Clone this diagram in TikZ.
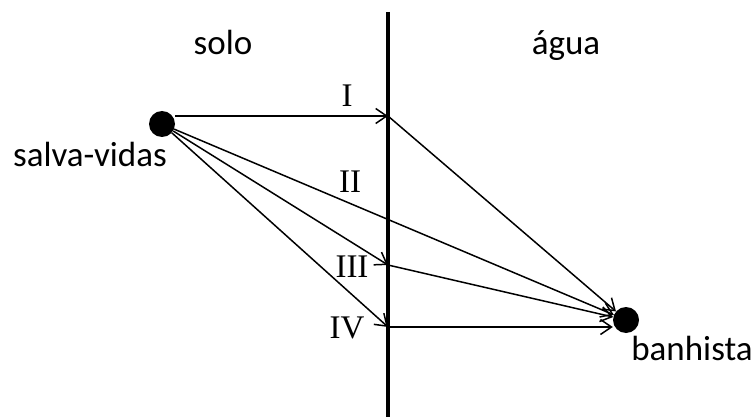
\documentclass[tikz,border=0pt]{standalone}
\usepackage{fontspec}
\setmainfont{Liberation Serif}
\newfontfamily\labelfont{Carlito}
\usetikzlibrary{positioning, arrows.meta}

\begin{document}
\begin{tikzpicture}[
    x=1pt, y=-1pt,
    dot/.style={
        circle,
        fill=black,
        minimum size=26pt,
        inner sep=0pt
    },
    place/.style={
        anchor=base,
        font=\labelfont\fontsize{35}{40}\selectfont
    },
    route/.style={
        anchor=base,
        font=\fontsize{33}{38}\selectfont
    },
    line/.style={draw, line width=1.5pt, -{Straight Barb[length=11pt,width=15pt,line width=1.5pt]}}
]
\useasboundingbox (0,0) rectangle (755,417);

% border between land and water
\draw[line width=4pt] (388,12) -- (388,417);

\node (salva) [dot] at (162,124) {};
\node (banhista) [dot] at (626,320) {};

\coordinate (p1) at (388,116);
\coordinate (p3) at (388,265);
\coordinate (p4) at (388,327);

\node (solo) [place] at (223,55) {solo};
\node (agua) [place] at (566,55) {água};
\node (lsalva) [place] at (90,167) {salva-vidas};
\node (lbanhista) [place] at (692,360) {banhista};

\node (r1) [route] at (347,107) {I};
\node (r2) [route] at (350,192) {II};
\node (r3) [route] at (352,277) {III};
\node (r4) [route] at (347,338) {IV};

% the four routes
\path [line] (salva.east |- p1) -- (p1);
\path [line] (p1) -- (banhista);
\path [line] (salva) -- (banhista);
\path [line] (salva) -- (p3);
\path [line] (p3) -- (banhista);
\path [line] (salva) -- (p4);
\path [line] (p4) -- (p4 -| banhista.west);

\end{tikzpicture}
\end{document}
